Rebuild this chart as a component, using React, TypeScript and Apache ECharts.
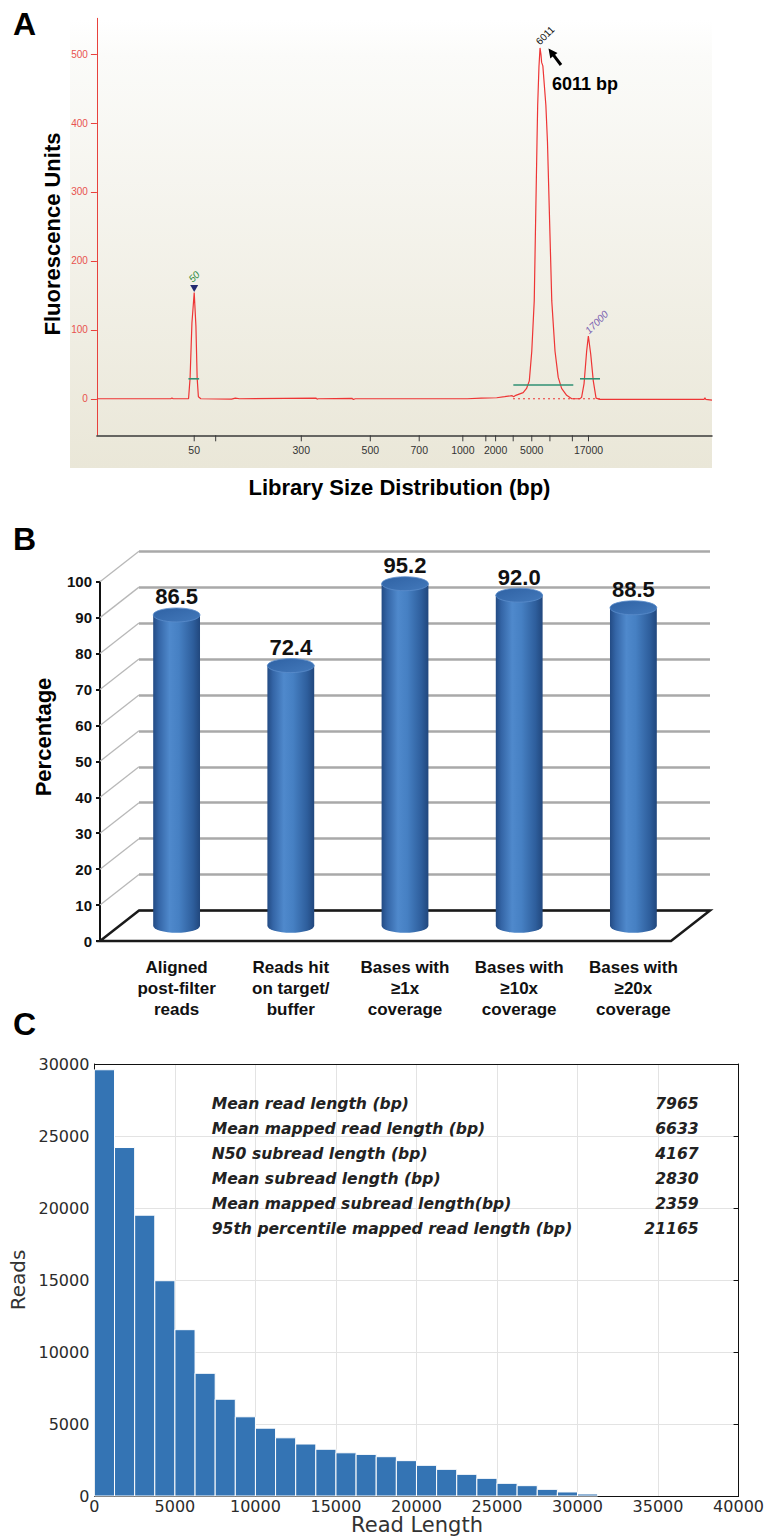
import React, { useEffect, useRef } from "react";
import * as echarts from "echarts";

// ---------------- Panel A : Bioanalyzer trace ----------------
const ladderBp = [50, 100, 300, 500, 700, 1000, 1500, 2000, 3000, 5000, 7000, 10380, 17000];
const ladderPos = [15.82, 19.31, 33.23, 44.45, 52.4, 59.49, 63.23, 64.82, 67.68, 70.7, 73.65, 77.3, 79.92];
const ladderLabelShown = [1, 0, 1, 1, 1, 1, 0, 1, 0, 1, 0, 0, 1];

const tracePoints: [number, number][] = [
  [0, 0], [12.0, 0], [12.2, 1], [12.4, 0], [14.9, 0], [15.15, 30], [15.45, 110], [15.82, 154],
  [16.1, 105], [16.3, 30], [16.5, 3], [16.9, 0], [21.9, -0.5], [22.5, 1], [23.2, 0], [35.6, 1],
  [35.8, -0.5], [36.0, 0], [41.5, 0.5], [41.7, -1], [42.0, 0], [60.2, 0], [62.5, 1], [65.0, 1.5],
  [66.3, 3], [67.5, 4.5], [67.75, 3], [68.1, 5], [69.3, 9], [69.85, 15], [70.3, 26], [70.7, 69],
  [71.1, 142], [71.55, 373], [71.66, 426], [71.87, 482], [72.04, 509], [72.2, 499], [72.3, 488],
  [72.5, 483], [72.99, 426], [73.25, 373], [73.95, 142], [74.48, 69], [75.0, 31], [75.55, 15],
  [76.37, 5], [77.2, 0], [78.5, 0], [78.8, 2], [79.2, 22], [79.62, 69], [79.9, 91], [80.28, 65],
  [80.7, 26], [81.15, 1], [81.8, -1], [90.0, -1], [95.5, -1], [98.7, -1], [98.85, 1.5], [99.0, -1], [100, -2],
];
const baselineDotted: [number, number][] = [[67.65, 0], [81.8, 0]];
const windowStart = [14.88, 67.7, 78.54];
const windowEnd = [16.62, 77.45, 81.79];
const windowLevel = [29, 20, 29];
const peakPos = [15.82, 72.04, 79.9];
const peakFU = [154, 509, 91];
const peakTag = ["50", "6011", "17000"];
const FU_MIN = -53;
const FU_MAX = 552;

// ---------------- Panel B : 3D cylinders ----------------
const qcCategories = [
  "Aligned\npost-filter\nreads",
  "Reads hit\non target/\nbuffer",
  "Bases with\n≥1x\ncoverage",
  "Bases with\n≥10x\ncoverage",
  "Bases with\n≥20x\ncoverage",
];
const qcValues = [86.5, 72.4, 95.2, 92.0, 88.5];
const pctTicks = [0, 10, 20, 30, 40, 50, 60, 70, 80, 90, 100];

// ---------------- Panel C : read length histogram ----------------
const binStart = [0, 1250, 2500, 3750, 5000, 6250, 7500, 8750, 10000, 11250, 12500, 13750, 15000,
  16250, 17500, 18750, 20000, 21250, 22500, 23750, 25000, 26250, 27500, 28750, 30000];
const BIN_WIDTH = 1250;
const readCounts = [29600, 24200, 19500, 14950, 11550, 8520, 6720, 5500, 4710, 4040, 3610, 3245, 3000,
  2890, 2730, 2455, 2130, 1852, 1505, 1227, 880, 718, 463, 280, 140];
const statLabels = [
  "Mean read length (bp)",
  "Mean mapped read length (bp)",
  "N50 subread length (bp)",
  "Mean subread length (bp)",
  "Mean mapped subread length(bp)",
  "95th percentile mapped read length (bp)",
];
const statValues = ["7965", "6633", "4167", "2830", "2359", "21165"];

const FONT_A = '"Liberation Sans", Arial, Helvetica, sans-serif';
const FONT_C = '"DejaVu Sans", sans-serif';
const FONT_STAT = '"DejaVu Sans", sans-serif';

const DX = 39;
const DY = -30.5;
const BF = { left: 100, top: 581.7, width: 571, height: 359.3 };

function txt(x: number, y: number, text: string, font: string, fill: string, align = "center", rotation = 0, z = 10): any {
  return {
    type: "text",
    x,
    y,
    rotation,
    z,
    style: { text, font, fill, align, textAlign: align, verticalAlign: "middle", textVerticalAlign: "middle" },
  };
}

function buildOption(): any {
  const bodyGrad = new echarts.graphic.LinearGradient(0, 0, 1, 0, [
    { offset: 0, color: "#234b84" },
    { offset: 0.12, color: "#3465a6" },
    { offset: 0.35, color: "#4f89cc" },
    { offset: 0.55, color: "#4680c3" },
    { offset: 0.85, color: "#2e5e9c" },
    { offset: 1, color: "#21477d" },
  ]);
  const capGrad = new echarts.graphic.LinearGradient(0, 0, 1, 1, [
    { offset: 0, color: "#2f62a4" },
    { offset: 1, color: "#4379bb" },
  ]);

  const graphics: any[] = [
    {
      type: "rect",
      z: -10,
      shape: { x: 70, y: 20, width: 642, height: 448 },
      style: {
        fill: new echarts.graphic.LinearGradient(0, 0, 0, 1, [
          { offset: 0, color: "#ffffff" },
          { offset: 0.08, color: "#fbfbf9" },
          { offset: 1, color: "#eae7d8" },
        ]),
      },
    },
    txt(13, 24, "A", `bold 32px ${FONT_A}`, "#000", "left"),
    txt(13, 539, "B", `bold 32px ${FONT_A}`, "#000", "left"),
    txt(13, 1024, "C", `bold 32px ${FONT_A}`, "#000", "left"),
    txt(52, 234, "Fluorescence Units", `bold 22px ${FONT_A}`, "#000", "center", Math.PI / 2),
    txt(399.5, 487, "Library Size Distribution (bp)", `bold 22px ${FONT_A}`, "#000"),
    txt(552, 83.5, "6011 bp", `bold 18px ${FONT_A}`, "#000", "left"),
    {
      type: "polygon",
      z: 10,
      shape: {
        points: [[548.5, 48.5], [557.5, 53.0], [555.1, 54.8], [562.2, 64.1], [559.8, 65.9], [552.7, 56.6], [550.3, 58.4]],
      },
      style: { fill: "#000" },
    },
    txt(43, 737, "Percentage", `bold 22px ${FONT_A}`, "#000", "center", Math.PI / 2),
    txt(18, 1280, "Reads", `20px ${FONT_C}`, "#333", "center", Math.PI / 2),
    txt(417, 1525, "Read Length", `21px ${FONT_C}`, "#333"),
  ];
  statLabels.forEach((s, i) => {
    graphics.push(txt(211.7, 1104 + 25 * i, s, `italic bold 15.6px ${FONT_STAT}`, "#222", "left"));
    graphics.push(txt(698.6, 1104 + 25 * i, statValues[i], `italic bold 15.6px ${FONT_STAT}`, "#222", "right"));
  });

  const plain = (v: number) => String(v);

  return {
    animation: false,
    backgroundColor: "#ffffff",
    grid: [
      { left: 96.9, top: 18.3, width: 615.1, height: 417 },
      { left: BF.left + DX / 2, top: BF.top + DY / 2, width: BF.width, height: BF.height },
      { left: BF.left, top: BF.top, width: BF.width, height: BF.height },
      { left: BF.left + DX, top: BF.top + DY, width: BF.width, height: BF.height },
      { left: 94.4, top: 1064, width: 644.3, height: 432 },
    ],
    xAxis: [
      {
        gridIndex: 0, type: "value", min: 0, max: 100,
        axisLine: { show: true, onZero: false, lineStyle: { color: "#3a3a3a", width: 1.5 } },
        axisTick: { show: false }, axisLabel: { show: false }, splitLine: { show: false },
      },
      {
        gridIndex: 1, type: "category", data: qcCategories,
        axisLine: { show: false }, axisTick: { show: false }, splitLine: { show: false },
        axisLabel: { interval: 0, margin: 31, fontFamily: FONT_A, fontWeight: "bold", fontSize: 17, lineHeight: 21, color: "#111" },
      },
      { gridIndex: 2, type: "value", min: 0, max: 1, show: false },
      { gridIndex: 3, type: "value", min: 0, max: 1, show: false },
      {
        gridIndex: 4, type: "value", min: 0, max: 40000, interval: 5000,
        axisLine: { show: true, onZero: false, lineStyle: { color: "#111", width: 1 } },
        axisTick: { show: false },
        axisLabel: { fontFamily: FONT_C, fontSize: 16, color: "#2b2b2b", margin: 2, formatter: plain },
        splitLine: { show: true, lineStyle: { color: "#e3e3e3", width: 1 } },
      },
      {
        gridIndex: 4, type: "value", position: "top", min: 0, max: 40000, interval: 5000,
        axisLine: { show: true, onZero: false, lineStyle: { color: "#111", width: 1 } },
        axisTick: { show: false }, axisLabel: { show: false }, splitLine: { show: false },
      },
    ],
    yAxis: [
      {
        gridIndex: 0, type: "value", min: FU_MIN, max: FU_MAX,
        axisLine: { show: true, onZero: false, lineStyle: { color: "#e8413c", width: 1 } },
        axisTick: { show: true, length: 6, lineStyle: { color: "#e8413c" } },
        axisLabel: { color: "#e8524f", fontSize: 10, fontFamily: FONT_A, margin: 9, showMinLabel: false, showMaxLabel: false },
        splitLine: { show: false },
      },
      { gridIndex: 1, type: "value", min: 0, max: 100, show: false },
      {
        gridIndex: 2, type: "value", min: 0, max: 100, interval: 10,
        axisLine: { show: true, onZero: false, lineStyle: { color: "#111", width: 2 } },
        axisTick: { show: true, length: 4, lineStyle: { color: "#111", width: 2 } },
        axisLabel: { fontFamily: FONT_A, fontWeight: "bold", fontSize: 15, color: "#111", margin: 8 },
        splitLine: { show: false },
      },
      {
        gridIndex: 3, type: "value", min: 0, max: 100, interval: 10,
        axisLine: { show: false }, axisTick: { show: false }, axisLabel: { show: false },
        splitLine: { show: true, lineStyle: { color: "#a9a9a9", width: 2.5 } },
      },
      {
        gridIndex: 4, type: "value", min: 0, max: 30000, interval: 5000,
        axisLine: { show: true, onZero: false, lineStyle: { color: "#111", width: 1 } },
        axisTick: { show: false },
        axisLabel: { fontFamily: FONT_C, fontSize: 16, color: "#2b2b2b", margin: 5, formatter: plain },
        splitLine: { show: true, lineStyle: { color: "#e3e3e3", width: 1 } },
      },
      {
        gridIndex: 4, type: "value", position: "right", min: 0, max: 30000, interval: 5000,
        axisLine: { show: true, onZero: false, lineStyle: { color: "#111", width: 1 } },
        axisTick: { show: true, inside: true, length: 5, lineStyle: { color: "#111" } },
        axisLabel: { show: false }, splitLine: { show: false },
      },
    ],
    graphic: { elements: graphics },
    series: [
      {
        name: "trace", type: "line", xAxisIndex: 0, yAxisIndex: 0, data: tracePoints,
        symbol: "none", showSymbol: false, silent: true, z: 4,
        lineStyle: { color: "#ee3535", width: 1.2 },
      },
      {
        name: "baseline", type: "line", xAxisIndex: 0, yAxisIndex: 0, data: baselineDotted,
        symbol: "none", showSymbol: false, silent: true, z: 3,
        lineStyle: { color: "#ee3535", width: 1, type: [2, 3] },
      },
      {
        name: "windows", type: "custom", xAxisIndex: 0, yAxisIndex: 0, z: 5, silent: true,
        data: windowStart.map((s, i) => [s, windowEnd[i], windowLevel[i]]),
        renderItem: (params: any, api: any) => {
          const a = api.coord([api.value(0), api.value(2)]);
          const b = api.coord([api.value(1), api.value(2)]);
          return { type: "line", shape: { x1: a[0], y1: a[1], x2: b[0], y2: b[1] }, style: { stroke: "#2f9173", lineWidth: 1.6 } };
        },
      },
      {
        name: "ladder", type: "custom", xAxisIndex: 0, yAxisIndex: 0, z: 5, silent: true,
        data: ladderPos.map((p, i) => [p, ladderBp[i], ladderLabelShown[i]]),
        renderItem: (params: any, api: any) => {
          const pt = api.coord([api.value(0), FU_MIN]);
          const children: any[] = [
            { type: "line", shape: { x1: pt[0], y1: pt[1], x2: pt[0], y2: pt[1] + 6 }, style: { stroke: "#3a3a3a", lineWidth: 1 } },
          ];
          if (api.value(2)) {
            children.push({
              type: "text", x: pt[0], y: pt[1] + 14.5,
              style: { text: String(api.value(1)), fill: "#333", font: `10.5px ${FONT_A}`, align: "center", textAlign: "center", verticalAlign: "middle", textVerticalAlign: "middle" },
            });
          }
          return { type: "group", children };
        },
      },
      {
        name: "peakTags", type: "custom", xAxisIndex: 0, yAxisIndex: 0, z: 6, silent: true,
        data: peakPos.map((p, i) => [p, peakFU[i], i]),
        renderItem: (params: any, api: any) => {
          const i = params.dataIndex;
          const pt = api.coord([api.value(0), api.value(1)]);
          const children: any[] = [];
          const colors = ["#2e8b3e", "#111111", "#7a5fb0"];
          const offs = [[-4, -12], [-2.5, -5], [-1.5, -4]];
          if (i === 0) {
            const my = pt[1] - 3;
            children.push({
              type: "polygon",
              shape: { points: [[pt[0] - 4, my - 4.5], [pt[0] + 4, my - 4.5], [pt[0], my + 2.5]] },
              style: { fill: "#232a70" },
            });
          }
          children.push({
            type: "text", x: pt[0] + offs[i][0], y: pt[1] + offs[i][1], rotation: Math.PI / 4,
            style: { text: peakTag[i], fill: colors[i], font: `${i === 1 ? "" : "italic "}10px ${FONT_A}`, align: "left", textAlign: "left", verticalAlign: "middle", textVerticalAlign: "middle" },
          });
          return { type: "group", children };
        },
      },
      {
        name: "walls", type: "custom", xAxisIndex: 2, yAxisIndex: 2, z: 2, silent: true,
        data: pctTicks.map((v) => [0, v]),
        renderItem: (params: any, api: any) => {
          const v = api.value(1);
          const p = api.coord([0, v]);
          if (v === 0) {
            const q = api.coord([1, 0]);
            return {
              type: "polygon",
              shape: { points: [p, q, [q[0] + DX, q[1] + DY], [p[0] + DX, p[1] + DY]] },
              style: { fill: "rgba(0,0,0,0)", stroke: "#1a1a1a", lineWidth: 2.5 },
            };
          }
          return { type: "line", shape: { x1: p[0], y1: p[1], x2: p[0] + DX, y2: p[1] + DY }, style: { stroke: "#b8b8b8", lineWidth: 1.3 } };
        },
      },
      {
        name: "cylinders", type: "custom", xAxisIndex: 1, yAxisIndex: 1, z: 4, silent: true,
        data: qcValues.map((v, i) => [i, v]),
        renderItem: (params: any, api: any) => {
          const v = api.value(1);
          const base = api.coord([api.value(0), 0]);
          const top = api.coord([api.value(0), v]);
          const w = api.size([1, 0])[0] * 0.205;
          const ry = 7;
          const x = base[0];
          const body = `M${x - w},${top[1]} L${x - w},${base[1]} A${w},${ry} 0 0 0 ${x + w},${base[1]} L${x + w},${top[1]} Z`;
          const cap = `M${x - w},${top[1]} A${w},${ry} 0 0 0 ${x + w},${top[1]} A${w},${ry} 0 0 0 ${x - w},${top[1]} Z`;
          return {
            type: "group",
            children: [
              { type: "path", shape: { pathData: body }, style: { fill: bodyGrad } },
              { type: "path", shape: { pathData: cap }, style: { fill: capGrad, stroke: "#5a8dcc", lineWidth: 0.8 } },
              {
                type: "text", x, y: top[1] - 18,
                style: { text: v.toFixed(1), fill: "#111", font: `bold 22px ${FONT_A}`, align: "center", textAlign: "center", verticalAlign: "middle", textVerticalAlign: "middle" },
              },
            ],
          };
        },
      },
      {
        name: "histogram", type: "custom", xAxisIndex: 4, yAxisIndex: 4, z: 3, silent: true,
        data: binStart.map((s, i) => [s, s + BIN_WIDTH, readCounts[i]]),
        renderItem: (params: any, api: any) => {
          const p0 = api.coord([api.value(0), api.value(2)]);
          const p1 = api.coord([api.value(1), 0]);
          return {
            type: "rect",
            shape: { x: p0[0], y: p0[1], width: p1[0] - p0[0], height: p1[1] - p0[1] },
            style: { fill: "#3474b4", stroke: "#ffffff", lineWidth: 1 },
          };
        },
      },
    ],
  };
}

export default function App() {
  const ref = useRef<HTMLDivElement>(null);
  useEffect(() => {
    if (!ref.current) return;
    const chart = echarts.init(ref.current, null, { renderer: "svg" });
    chart.setOption(buildOption());
    return () => chart.dispose();
  }, []);
  return (
    <div
      ref={ref}
      style={{ position: "absolute", left: 0, top: 0, width: 767, height: 1536, background: "#fff" }}
    />
  );
}
